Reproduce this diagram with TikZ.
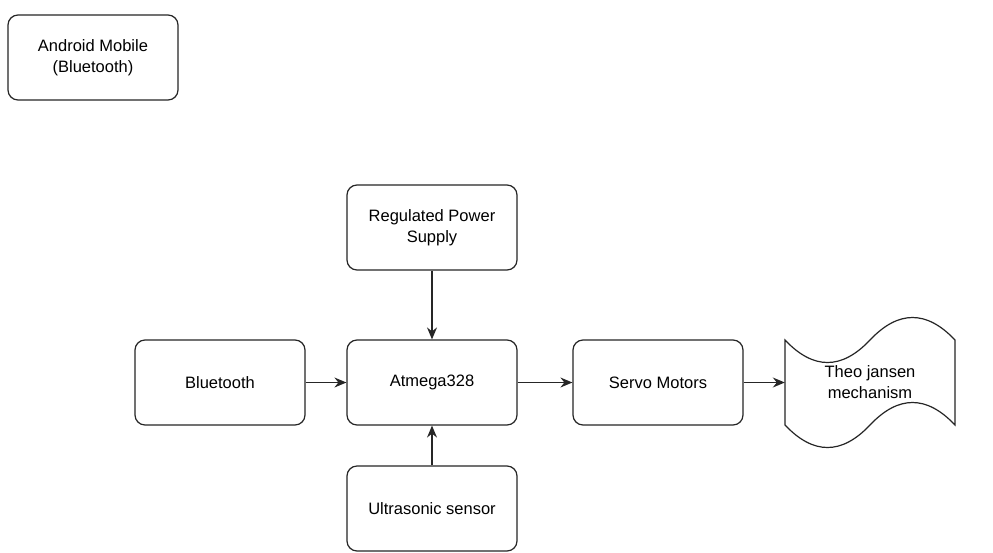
\documentclass[tikz,border=0pt]{standalone}
\usepackage{fontspec}
\setmainfont{Liberation Sans}
\usetikzlibrary{arrows.meta}
\begin{document}
\begin{tikzpicture}[x=1pt,y=-1pt,
  blk/.style={draw=black!85, line width=1.2pt, rounded corners=10pt, minimum width=170pt, minimum height=85pt, inner sep=0pt, align=center, font=\fontsize{16.5}{21}\selectfont},
  conn/.style={draw=black!85, line width=1.3pt, -{Stealth[length=12pt,width=10pt,inset=4pt]}}]
\useasboundingbox[fill=white] (0,0) rectangle (993,552);
\node[blk] (android) at (93,57.5) {Android Mobile\\(Bluetooth)};
\node[blk] (psu) at (432,227.5) {Regulated Power\\Supply};
\node[blk] (bt) at (220,382.5) {Bluetooth};
\node[blk] (mcu) at (432,382.5) {Atmega328};
\node[blk] (servo) at (658,382.5) {Servo Motors};
\node[blk] (us) at (432,508.5) {Ultrasonic sensor};
% tape shape
\draw[draw=black!85, line width=1.2pt, fill=white] (785,340)
  .. controls (813.33,370) and (841.67,370) .. (870,340)
  .. controls (898.33,310) and (926.67,310) .. (955,340)
  -- (955,425)
  .. controls (926.67,395) and (898.33,395) .. (870,425)
  .. controls (841.67,455) and (813.33,455) .. (785,425) -- cycle;
\node[minimum width=170pt, minimum height=85pt, inner sep=0pt, align=center, font=\fontsize{16.5}{21}\selectfont] (tape) at (870,382.5) {Theo jansen\\mechanism};
\draw[conn] (bt) -- (mcu);
\draw[conn] (mcu) -- (servo);
\draw[conn] (servo) -- (tape);
\draw[conn] (psu) -- (mcu);
\draw[conn] (us) -- (mcu);
\end{tikzpicture}
\end{document}
